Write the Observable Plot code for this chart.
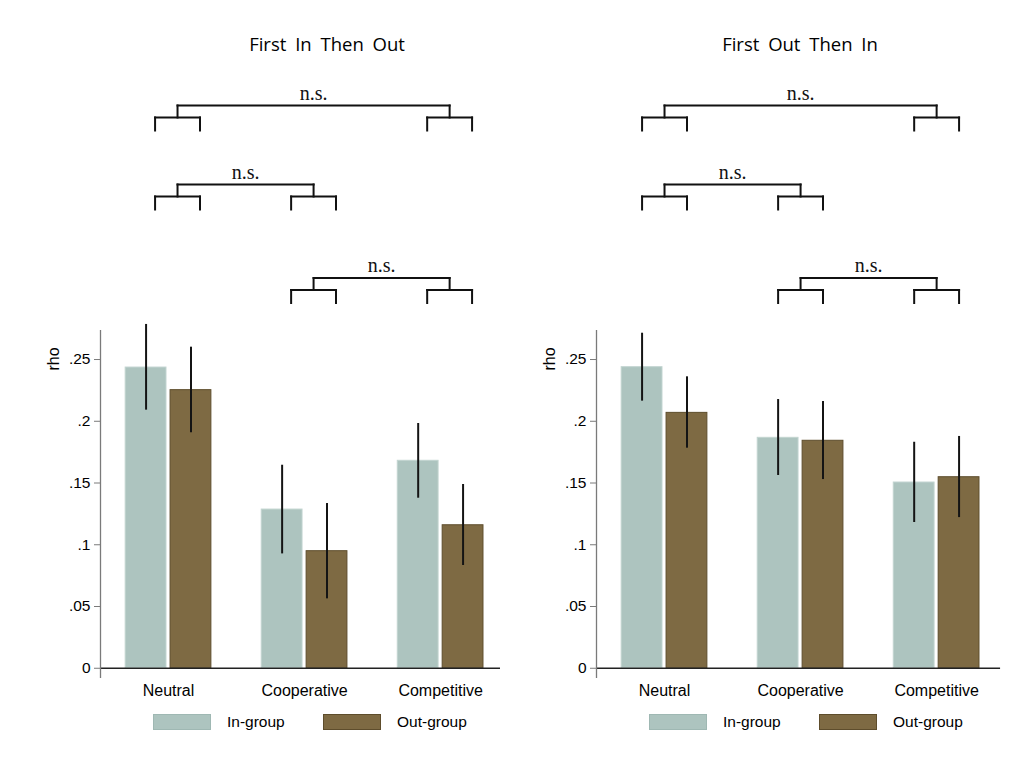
<!DOCTYPE html>
<html>
<head>
<meta charset="utf-8">
<script src="https://cdn.jsdelivr.net/npm/d3@7"></script>
<script src="https://cdn.jsdelivr.net/npm/@observablehq/plot@0.6"></script>
<style>
  body { margin: 0; background: #fff; }
  #chart { position: relative; width: 1023px; height: 763px; overflow: hidden; }
  .panel { position: absolute; top: 0; width: 505px; height: 763px; }
  .panel svg { position: absolute; left: 0; top: 0; }
  .title { position: absolute; top: 43px; transform: translate(-50%, -50%); white-space: nowrap;
           font-family: "Open Sans", sans-serif; font-size: 18.5px; word-spacing: 4px; color: #000; }
  .ylab { position: absolute; left: 54px; top: 359px; transform: translate(-50%, -50%) rotate(-90deg);
          font-family: "Liberation Sans", Arial, sans-serif; font-size: 16px; color: #000; white-space: nowrap; }
  .sw { position: absolute; top: 714px; width: 58px; height: 16px; box-sizing: border-box; }
  .lg { position: absolute; top: 722px; transform: translateY(-50%); white-space: nowrap;
        font-family: "Liberation Sans", Arial, sans-serif; font-size: 15.5px; color: #000; }
</style>
</head>
<body>
<div id="chart"></div>
<script>
// ---- data ----
const categories = ["Neutral", "Cooperative", "Competitive"];
const groups = ["In-group", "Out-group"];
const rhoTicks = [0, 0.05, 0.1, 0.15, 0.2, 0.25];
const yLabel = "rho";
const panelTitles = ["First In Then Out", "First Out Then In"];

// First In Then Out
const inFirstIngroup   = [0.2435, 0.1285, 0.1680];
const inFirstIngroupLo = [0.2090, 0.0926, 0.1377];
const inFirstIngroupHi = [0.2784, 0.1644, 0.1982];
const inFirstOutgroup   = [0.2252, 0.0948, 0.1158];
const inFirstOutgroupLo = [0.1907, 0.0562, 0.0832];
const inFirstOutgroupHi = [0.2600, 0.1334, 0.1488];

// First Out Then In
const outFirstIngroup   = [0.2438, 0.1866, 0.1504];
const outFirstIngroupLo = [0.2163, 0.1561, 0.1180];
const outFirstIngroupHi = [0.2713, 0.2176, 0.1830];
const outFirstOutgroup   = [0.2068, 0.1842, 0.1547];
const outFirstOutgroupLo = [0.1782, 0.1528, 0.1220];
const outFirstOutgroupHi = [0.2360, 0.2160, 0.1877];

// pairwise comparisons shown above each panel
const comparisonPairs = [["Neutral", "Competitive"], ["Neutral", "Cooperative"], ["Cooperative", "Competitive"]];
const comparisonLabels = ["n.s.", "n.s.", "n.s."];

// ---- layout ----
const colors = ["#adc4bf", "#7e6a43"];
const W = 505, H = 705, ML = 100;
const yDomain = [-0.0083, 0.2735];
const offset = 0.165;     // bar centre distance from category centre
const halfBar = 0.15;     // half bar width
const panels = [
  {left: 0,   xMax: 2.44, titleX: 327, bracketDx: 9, series: [inFirstIngroup, inFirstIngroupLo, inFirstIngroupHi, inFirstOutgroup, inFirstOutgroupLo, inFirstOutgroupHi]},
  {left: 496, xMax: 2.47, titleX: 304, bracketDx: 0, series: [outFirstIngroup, outFirstIngroupLo, outFirstIngroupHi, outFirstOutgroup, outFirstOutgroupLo, outFirstOutgroupHi]}
];
const pxPerUnit = 136.05;
const bracketRows = [105, 184, 277.5]; // top of each bracket, px
const drop1 = 12, drop2 = 13;
const legendPos = [[153, 227], [323, 397]];

const fmt = d => d === 0 ? "0" : String(d).replace(/^0/, "");

const chart = document.getElementById("chart");

panels.forEach((p, pi) => {
  const [inV, inLo, inHi, outV, outLo, outHi] = p.series;
  const rows = categories.flatMap((c, i) => [
    {category: c, group: groups[0], rho: inV[i], lo: inLo[i], hi: inHi[i], cx: i - offset},
    {category: c, group: groups[1], rho: outV[i], lo: outLo[i], hi: outHi[i], cx: i + offset}
  ]);
  const xDomain = [-0.5, p.xMax];
  const MR = W - ML - pxPerUnit * (xDomain[1] - xDomain[0]);

  const div = document.createElement("div");
  div.className = "panel";
  div.style.left = p.left + "px";
  chart.appendChild(div);

  const main = Plot.plot({
    width: W, height: H,
    marginLeft: ML, marginRight: MR, marginTop: 330, marginBottom: 27,
    x: {type: "linear", domain: xDomain, axis: null},
    y: {domain: yDomain, axis: null},
    color: {domain: groups, range: colors},
    style: {fontFamily: "Liberation Sans, Arial, sans-serif", fontSize: "15.5px", color: "#000", background: "transparent", overflow: "visible"},
    marks: [
      Plot.rect(rows, {x1: d => d.cx - halfBar, x2: d => d.cx + halfBar, y1: 0, y2: "rho", fill: "group"}),
      Plot.rect(rows.filter(d => d.group === groups[0]), {x1: d => d.cx - halfBar, x2: d => d.cx + halfBar, y1: 0, y2: "rho", fill: "none", stroke: "#c2d4d0", strokeWidth: 1}),
      Plot.rect(rows.filter(d => d.group === groups[1]), {x1: d => d.cx - halfBar, x2: d => d.cx + halfBar, y1: 0, y2: "rho", fill: "none", stroke: "#5e4d2c", strokeWidth: 1}),
      Plot.ruleX(rows, {x: "cx", y1: "lo", y2: "hi", stroke: "#141414", strokeWidth: 2}),
      Plot.ruleY([0], {stroke: "#222", strokeWidth: 1.5}),
      Plot.ruleX([xDomain[0]], {stroke: "#7a7a7a", strokeWidth: 1.3}),
      Plot.axisY({ticks: rhoTicks, tickFormat: fmt, tickSize: 6, tickPadding: 4, stroke: "#7a7a7a", fontSize: 15.5, label: null}),
      Plot.axisX({ticks: [0, 1, 2], tickFormat: i => categories[i], tickSize: 0, tickPadding: 6, fontSize: 16, label: null})
    ]
  });
  div.appendChild(main);

  // significance brackets
  const segs = [];
  const labels = [];
  comparisonPairs.forEach(([a, b], k) => {
    const top = bracketRows[k], mid = top + drop1, bot = mid + drop2;
    const ca = categories.indexOf(a), cb = categories.indexOf(b);
    segs.push({x1: ca, x2: cb, y1: top, y2: top});
    for (const c of [ca, cb]) {
      segs.push({x1: c, x2: c, y1: top, y2: mid});
      segs.push({x1: c - offset, x2: c + offset, y1: mid, y2: mid});
      segs.push({x1: c - offset, x2: c - offset, y1: mid, y2: bot});
      segs.push({x1: c + offset, x2: c + offset, y1: mid, y2: bot});
    }
    labels.push({x: (ca + cb) / 2, y: top - 6, text: comparisonLabels[k]});
  });

  const brackets = Plot.plot({
    width: W, height: 320,
    marginLeft: ML, marginRight: MR, marginTop: 0, marginBottom: 0,
    x: {type: "linear", domain: xDomain, axis: null},
    y: {type: "identity", axis: null},
    style: {background: "transparent", overflow: "visible"},
    marks: [
      Plot.link(segs, {x1: "x1", x2: "x2", y1: "y1", y2: "y2", stroke: "#111", strokeWidth: 2, strokeLinecap: "square", dx: p.bracketDx}),
      Plot.text(labels, {x: "x", y: "y", text: "text", lineAnchor: "bottom", fontFamily: "Liberation Serif, serif", fontSize: 20, fill: "#111", dx: p.bracketDx})
    ]
  });
  div.appendChild(brackets);

  const title = document.createElement("div");
  title.className = "title";
  title.style.left = p.titleX + "px";
  title.textContent = panelTitles[pi];
  div.appendChild(title);

  const ylab = document.createElement("div");
  ylab.className = "ylab";
  ylab.textContent = yLabel;
  div.appendChild(ylab);

  // legend
  groups.forEach((g, gi) => {
    const sw = document.createElement("div");
    sw.className = "sw";
    sw.style.left = legendPos[gi][0] + "px";
    sw.style.background = colors[gi];
    sw.style.border = "1px solid " + (gi === 0 ? "#9fb8b3" : "#5e4d2c");
    div.appendChild(sw);
    const t = document.createElement("div");
    t.className = "lg";
    t.style.left = legendPos[gi][1] + "px";
    t.textContent = g;
    div.appendChild(t);
  });
});
</script>
</body>
</html>
